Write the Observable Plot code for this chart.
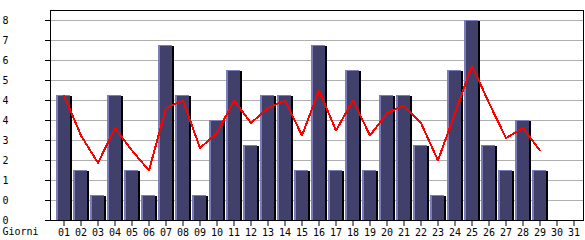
<!DOCTYPE html>
<html>
<head>
<meta charset="utf-8">
<script src="https://cdn.jsdelivr.net/npm/d3@7"></script>
<script src="https://cdn.jsdelivr.net/npm/@observablehq/plot@0.6"></script>
<style>
  html, body { margin: 0; padding: 0; background: white; }
</style>
</head>
<body>
<div id="chart"></div>
<script>
const days = ["01","02","03","04","05","06","07","08","09","10","11","12","13","14","15","16","17","18","19","20","21","22","23","24","25","26","27","28","29","30","31"];
const visits = [5,2,1,5,2,1,7,5,1,4,6,3,5,5,2,7,2,6,2,5,5,3,1,6,8,3,2,4,2,0,0];
const trendDays = days.slice(0, 29);
const trend = [5.0,3.4,2.3,3.7,2.8,2.0,4.5,4.8,2.9,3.5,4.8,3.9,4.5,4.8,3.4,5.2,3.6,4.8,3.4,4.3,4.6,3.9,2.4,4.3,6.2,4.7,3.3,3.7,2.8];
const yTicks = [0,0.8,1.6,2.4,3.2,4.0,4.8,5.6,6.4,7.2,8.0];
const yTickLabels = ["0","0","1","2","3","4","4","5","6","7","8"];
const xTitle = "Giorni";

const barData = days.map((d, i) => ({day: d, value: visits[i]}));
const posBars = barData.filter(d => d.value > 0);
const lineData = trendDays.map((d, i) => ({day: d, value: trend[i]}));
const light = "#7c7cba", dark = "#40406a";

const chart = Plot.plot({
  width: 585, height: 240,
  marginLeft: 50, marginRight: 2, marginTop: 10, marginBottom: 20,
  style: {fontFamily: "DejaVu Sans Mono", fontSize: "10px", background: "white", color: "black", overflow: "visible"},
  x: {type: "band", domain: days, padding: 0, insetLeft: 4, insetRight: 1, label: null},
  y: {domain: [0, 8.4], label: null},
  marks: [
    Plot.ruleY(yTicks.slice(1), {stroke: "#b0b0b0"}),
    Plot.barY(posBars, {x: "day", y: "value", fill: "black", insetLeft: 1, insetRight: 2, dx: 2, dy: 1}),
    Plot.barY(posBars, {x: "day", y: "value", fill: light, insetLeft: 1, insetRight: 2}),
    Plot.barY(posBars, {x: "day", y: "value", fill: dark, insetLeft: 3, insetRight: 2, insetTop: 1}),
    Plot.tickY(barData, {x: "day", y: "value", stroke: light, insetLeft: 1, insetRight: 2}),
    Plot.line(lineData, {x: "day", y: "value", stroke: "#ff0000", strokeWidth: 2, shapeRendering: "crispEdges"}),
    Plot.frame({stroke: "black"}),
    Plot.axisY({ticks: yTicks, tickSize: 5, tickPadding: 37,
      tickFormat: d => yTickLabels[yTicks.findIndex(t => Math.abs(t - d) < 1e-9)]}),
    Plot.axisX({tickSize: 6, tickPadding: 2}),
    Plot.text([xTitle], {frameAnchor: "bottom-left", dx: -48, dy: 11, textAnchor: "start", lineAnchor: "middle"})
  ]
});
document.getElementById("chart").appendChild(chart);
</script>
</body>
</html>
